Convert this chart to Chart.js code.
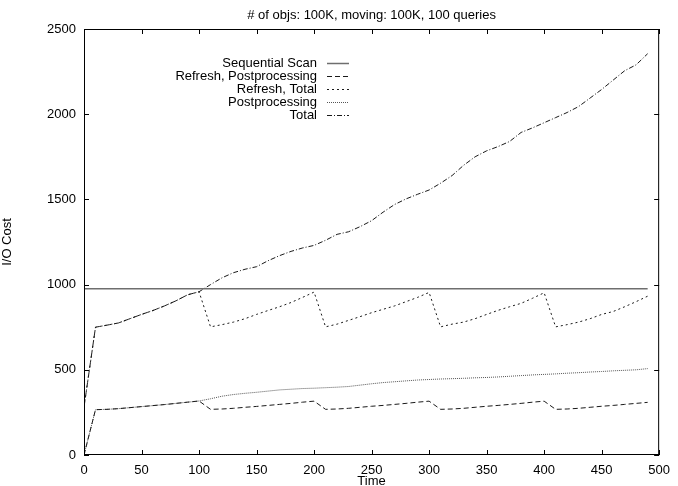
<!DOCTYPE html>
<html>
<head>
<meta charset="utf-8">
<script src="https://cdn.jsdelivr.net/npm/chart.js@4.4.1/dist/chart.umd.min.js"></script>
<style>
  html, body { margin: 0; padding: 0; background: #fff; }
  #wrap { width: 678px; height: 486px; }
</style>
</head>
<body>
<div id="wrap"><canvas id="c" width="678" height="486"></canvas></div>
<script>
// time axis (x), every 10 units
const time = [0, 10, 20, 30, 40, 50, 60, 70, 80, 90,
  100, 110, 120, 130, 140, 150, 160, 170, 180, 190,
  200, 210, 220, 230, 240, 250, 260, 270, 280, 290,
  300, 310, 320, 330, 340, 350, 360, 370, 380, 390,
  400, 410, 420, 430, 440, 450, 460, 470, 480, 490];

const seqScanTime = [0, 490];
const seqScan = [975, 975];

const refreshPost = [0, 266, 268, 272, 278, 284, 290, 296, 303, 310,
  317, 268, 270, 274, 280, 285, 291, 297, 303, 310,
  316, 268, 270, 274, 280, 286, 291, 297, 303, 310,
  316, 268, 270, 274, 280, 286, 291, 297, 303, 310,
  316, 268, 270, 274, 280, 286, 291, 297, 303, 309];

const refreshTotal = [280, 750, 762, 775, 800, 825, 848, 875, 905, 940,
  958, 752, 765, 780, 800, 825, 848, 870, 895, 925,
  956, 752, 768, 790, 812, 835, 855, 875, 900, 925,
  954, 752, 768, 780, 800, 825, 849, 870, 890, 920,
  952, 752, 765, 780, 800, 825, 842, 870, 900, 932];

const post = [0, 266, 268, 272, 278, 284, 290, 296, 303, 310,
  317, 330, 345, 355, 362, 368, 375, 382, 386, 390,
  392, 395, 398, 402, 410, 418, 425, 430, 435, 440,
  443, 446, 448, 450, 453, 455, 458, 462, 466, 470,
  473, 476, 480, 483, 487, 490, 494, 497, 500, 507];

const total = [280, 750, 762, 775, 800, 825, 848, 875, 905, 940,
  958, 1000, 1040, 1070, 1090, 1105, 1140, 1170, 1195, 1215,
  1230, 1260, 1295, 1310, 1340, 1375, 1425, 1470, 1503, 1530,
  1555, 1595, 1640, 1700, 1750, 1785, 1810, 1840, 1893, 1920,
  1950, 1980, 2010, 2045, 2095, 2145, 2200, 2255, 2290, 2355];

const chartTitle = "# of objs: 100K, moving: 100K, 100 queries";
const FONT = "'Liberation Sans', Arial, Helvetica, sans-serif";

const pts = (xs, ys) => xs.map((x, i) => ({ x: x, y: ys[i] }));

// gnuplot style frame, inward ticks on all sides, title and key
const gnuplotLook = {
  id: "gnuplotLook",
  afterDraw(chart) {
    const ctx = chart.ctx;
    const a = chart.chartArea;
    const xs = chart.scales.x, ys = chart.scales.y;
    ctx.save();
    ctx.strokeStyle = "#000";
    ctx.lineWidth = 1;
    ctx.setLineDash([]);
    ctx.strokeRect(a.left + 0.5, a.top + 0.5, a.right - a.left - 1, a.bottom - a.top - 1);
    const tl = 5;
    ctx.beginPath();
    xs.ticks.forEach(t => {
      const px = Math.round(xs.getPixelForValue(t.value)) + 0.5;
      ctx.moveTo(px, a.bottom); ctx.lineTo(px, a.bottom - tl);
      ctx.moveTo(px, a.top); ctx.lineTo(px, a.top + tl);
    });
    ys.ticks.forEach(t => {
      const py = Math.round(ys.getPixelForValue(t.value)) + 0.5;
      ctx.moveTo(a.left, py); ctx.lineTo(a.left + tl, py);
      ctx.moveTo(a.right, py); ctx.lineTo(a.right - tl, py);
    });
    ctx.stroke();

    // title
    ctx.fillStyle = "#000";
    ctx.font = "13px " + FONT;
    ctx.textAlign = "center";
    ctx.textBaseline = "middle";
    ctx.fillText(chartTitle, (a.left + a.right) / 2, 15);

    // key
    ctx.font = "13px " + FONT;
    ctx.textAlign = "right";
    chart.data.datasets.forEach((ds, i) => {
      const y = 63 + i * 13;
      ctx.fillStyle = "#000";
      ctx.fillText(ds.label, 317, y);
      ctx.beginPath();
      ctx.strokeStyle = ds.borderColor;
      ctx.lineWidth = ds.borderWidth;
      ctx.setLineDash(ds.borderDash || []);
      ctx.moveTo(327, y + 0.5);
      ctx.lineTo(349, y + 0.5);
      ctx.stroke();
    });
    ctx.restore();
  }
};

new Chart(document.getElementById("c"), {
  type: "line",
  data: {
    datasets: [
      { label: "Sequential Scan", data: pts(seqScanTime, seqScan),
        borderColor: "#6e6e6e", borderWidth: 1.5, borderDash: [] },
      { label: "Refresh, Postprocessing", data: pts(time, refreshPost),
        borderColor: "#1a1a1a", borderWidth: 1, borderDash: [5, 3] },
      { label: "Refresh, Total", data: pts(time, refreshTotal),
        borderColor: "#1a1a1a", borderWidth: 1, borderDash: [2, 3] },
      { label: "Postprocessing", data: pts(time, post),
        borderColor: "#555", borderWidth: 1, borderDash: [1, 1] },
      { label: "Total", data: pts(time, total),
        borderColor: "#1a1a1a", borderWidth: 1, borderDash: [5, 2, 1, 2] }
    ]
  },
  options: {
    responsive: false,
    animation: false,
    devicePixelRatio: 1,
    layout: { padding: { top: 29, right: 11, left: 0, bottom: 0 } },
    elements: { point: { radius: 0 }, line: { tension: 0, fill: false } },
    plugins: { legend: { display: false }, tooltip: { enabled: false } },
    scales: {
      x: {
        type: "linear", min: 0, max: 500,
        afterFit(scale) { scale.height = 31; },
        grid: { display: false, drawTicks: false },
        border: { display: false },
        ticks: { stepSize: 50, padding: 8, maxRotation: 0, autoSkip: false,
                 color: "#000", font: { family: FONT, size: 13 },
                 callback: v => String(v) },
        title: { display: true, text: "Time", color: "#000", padding: 0,
                 font: { family: FONT, size: 13, lineHeight: "10px" } }
      },
      y: {
        min: 0, max: 2500,
        afterFit(scale) { scale.width = 84; },
        grid: { display: false, drawTicks: false },
        border: { display: false },
        ticks: { stepSize: 500, padding: 8, color: "#000",
                 font: { family: FONT, size: 13 },
                 callback: v => String(v) },
        title: { display: true, text: "I/O Cost", color: "#000", padding: 0,
                 font: { family: FONT, size: 13, lineHeight: "14px" } }
      }
    }
  },
  plugins: [gnuplotLook]
});
</script>
</body>
</html>
